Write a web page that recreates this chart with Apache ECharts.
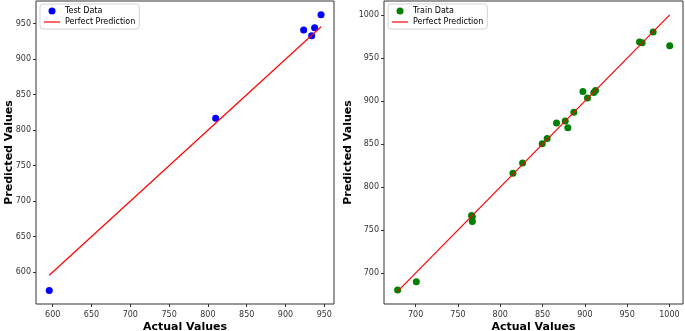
<!DOCTYPE html>
<html>
<head>
<meta charset="utf-8">
<script src="https://cdn.jsdelivr.net/npm/echarts@6/dist/echarts.min.js"></script>
<style>
  html, body { margin: 0; padding: 0; background: #fff; }
  #chart1 { width: 685px; height: 331px; }
</style>
</head>
<body>
<div id="chart1"></div>
<script>
// test set (left panel)
var testActual = [595.6, 810, 923.4, 933.7, 937.5, 945.8];
var testPredicted = [574.2, 816.6, 941, 933.2, 944.4, 962.6];
// train set (right panel)
var trainActual = [678.7, 700.8, 766.1, 767, 767, 815, 826.4, 849.6, 855.5, 866.5, 876.8, 879.9, 887, 897.7, 903.1, 910.6, 912.6, 964.6, 967.7, 980.7, 1000.3];
var trainPredicted = [680.4, 690, 767.1, 765.5, 760, 816.1, 828, 850.4, 856.6, 874.6, 877, 869, 887, 911.3, 903.6, 910, 912.4, 968.8, 968, 980.3, 964.5];
// tick labels
var testXTicks = [600, 650, 700, 750, 800, 850, 900, 950];
var testYTicks = [600, 650, 700, 750, 800, 850, 900, 950];
var trainXTicks = [700, 750, 800, 850, 900, 950, 1000];
var trainYTicks = [700, 750, 800, 850, 900, 950, 1000];

var myChart = echarts.init(document.getElementById("chart1"));
var FONT = 'DejaVu Sans';

function pairs(xs, ys) {
	var d = [];
	for (var i = 0; i < xs.length; i++) {
		d.push([xs[i], ys[i]]);
	}
	return d;
}
// y = x line from smallest to largest actual value
function diag(xs) {
	var lo = Math.min.apply(null, xs), hi = Math.max.apply(null, xs);
	return [[lo, lo], [hi, hi]];
}

function axis(idx, range, ticks, name, gap, isY) {
	return {
		type: 'value',
		gridIndex: idx,
		min: range[0],
		max: range[1],
		name: name,
		nameLocation: 'middle',
		nameGap: gap,
		nameMoveOverlap: false,
		nameTextStyle: { fontFamily: FONT, fontWeight: 'bold', fontSize: 11, color: '#000' },
		axisLine: { show: false },
		axisTick: { show: true, length: 3, customValues: ticks, lineStyle: { color: '#333' } },
		axisLabel: {
			customValues: ticks,
			margin: isY ? 5 : 7,
			fontFamily: FONT,
			fontSize: 8,
			color: '#333',
			formatter: function (v) { return String(v); }
		},
		splitLine: { show: false }
	};
}

function legend(left, label) {
	return {
		left: left,
		top: 4,
		orient: 'vertical',
		padding: [3, 4],
		itemGap: 3,
		itemWidth: 16,
		itemHeight: 7,
		backgroundColor: 'rgba(255,255,255,0.8)',
		borderColor: '#d4d4d4',
		borderWidth: 1,
		borderRadius: 3,
		textStyle: { fontFamily: FONT, fontSize: 8, color: '#000' },
		data: [
			{ name: label, icon: 'circle' },
			{ name: 'Perfect Prediction', icon: 'path://M0,0L16,0L16,1.2L0,1.2Z' }
		]
	};
}

var option = {
	animation: false,
	backgroundColor: '#fff',
	legend: [legend(40, 'Test Data'), legend(388, 'Train Data')],
	grid: [
		{ left: 36, top: 1, width: 298, height: 303, show: true, borderColor: '#333', borderWidth: 1, outerBoundsMode: 'none' },
		{ left: 384, top: 1, width: 299, height: 303, show: true, borderColor: '#333', borderWidth: 1, outerBoundsMode: 'none' }
	],
	xAxis: [
		axis(0, [578.5, 962.5], testXTicks, 'Actual Values', 18, false),
		axis(1, [662.6, 1016], trainXTicks, 'Actual Values', 18, false)
	],
	yAxis: [
		axis(0, [555, 982], testYTicks, 'Predicted Values', 21, true),
		axis(1, [664, 1016.5], trainYTicks, 'Predicted Values', 30, true)
	],
	series: [
		{
			name: 'Test Data', type: 'scatter', xAxisIndex: 0, yAxisIndex: 0,
			symbolSize: 7, itemStyle: { color: '#0000ff', opacity: 1 },
			data: pairs(testActual, testPredicted), z: 3
		},
		{
			name: 'Perfect Prediction', type: 'line', xAxisIndex: 0, yAxisIndex: 0,
			symbol: 'none', lineStyle: { color: '#ff0000', width: 1.2 }, itemStyle: { color: '#ff0000' },
			data: diag(testActual), z: 4
		},
		{
			name: 'Train Data', type: 'scatter', xAxisIndex: 1, yAxisIndex: 1,
			symbolSize: 7, itemStyle: { color: '#008000', opacity: 1 },
			data: pairs(trainActual, trainPredicted), z: 3
		},
		{
			name: 'Perfect Prediction', type: 'line', xAxisIndex: 1, yAxisIndex: 1,
			symbol: 'none', lineStyle: { color: '#ff0000', width: 1.2 }, itemStyle: { color: '#ff0000' },
			data: diag(trainActual), z: 4
		}
	]
};
myChart.setOption(option);
</script>
</body>
</html>
